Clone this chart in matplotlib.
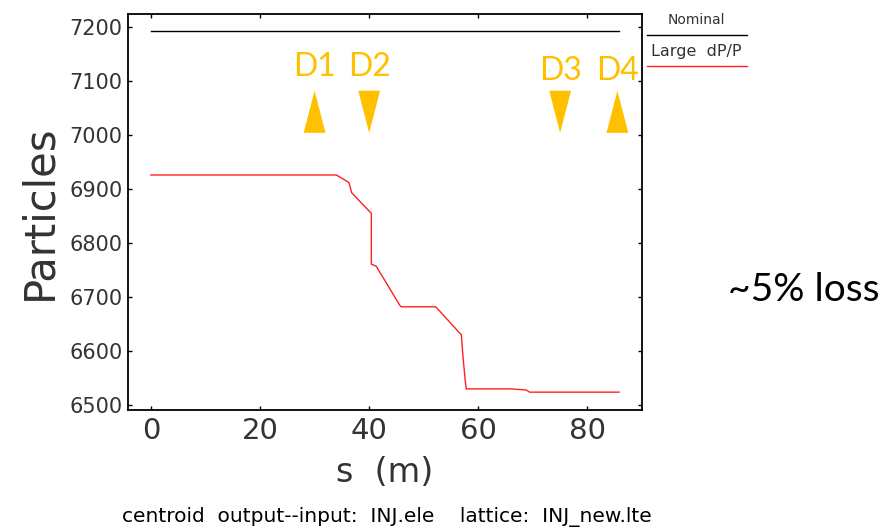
import matplotlib.pyplot as plt
from matplotlib.lines import Line2D

# Particle count along the beamline
s_nominal = [0.0, 85.8]
n_nominal = [7193, 7193]

s_large = [0.0, 34.0, 36.3, 36.8, 40.4, 40.4, 41.3, 45.6, 45.9, 52.2,
           56.9, 57.2, 57.6, 57.8, 66.0, 68.8, 69.4, 85.8]
n_large = [6926, 6926, 6912, 6893, 6855, 6761, 6757, 6685, 6682, 6682,
           6630, 6589, 6546, 6530, 6530, 6528, 6524, 6524]

# Detector markers: name, position (m), arrow direction
det_names = ['D1', 'D2', 'D3', 'D4']
det_s = [30.0, 40.0, 75.0, 85.5]
det_up = [True, False, False, True]

x_ticks = [0, 20, 40, 60, 80]
y_ticks = [6500, 6600, 6700, 6800, 6900, 7000, 7100, 7200]

orange = '#FFC000'
grey = '#333333'
plt.rcParams['font.family'] = 'DejaVu Sans'

fig = plt.figure(figsize=(8.92, 5.29), dpi=100)
ax = fig.add_axes([0.1435, 0.225, 0.5762, 0.7485])

ax.plot(s_nominal, n_nominal, color='black', lw=1.0)
ax.plot(s_large, n_large, color='#ff2020', lw=1.0)

# Triangles for the detectors
half_w = 2.0
tri_lo, tri_hi = 7004, 7082
for name, s, up in zip(det_names, det_s, det_up):
    xs = [s - half_w, s + half_w, s]
    if up:
        ys = [tri_lo, tri_lo, tri_hi]
    else:
        ys = [tri_hi, tri_hi, tri_lo]
    ax.fill(xs, ys, color=orange, lw=0)
    ty = 7125 if name in ('D1', 'D2') else 7118
    ax.text(s, ty, name, color=orange, fontsize=23, ha='center', va='center',
            family='Lato')

ax.set_xlim(-4.2, 90)
ax.set_ylim(6491, 7224)
ax.set_xticks(x_ticks)
ax.set_yticks(y_ticks)
ax.tick_params(direction='in', length=3, width=1, top=True, right=True,
               colors='black', labelcolor=grey)
ax.tick_params(axis='x', labelsize=21, pad=5)
ax.tick_params(axis='y', labelsize=15, pad=4)
for sp in ax.spines.values():
    sp.set_linewidth(1.3)

ax.set_xlabel('s  (m)', fontsize=24, color=grey, labelpad=8)
ax.set_ylabel('Particles', fontsize=30, color=grey, labelpad=6)

# Legend drawn outside the axes on the right
fig.text(0.781, 0.962, 'Nominal', fontsize=10, color=grey, ha='center', va='center')
fig.add_artist(Line2D([0.725, 0.838], [0.934, 0.934], color='black', lw=1.0))
fig.text(0.781, 0.902, 'Large  dP/P', fontsize=11.5, color=grey, ha='center', va='center')
fig.add_artist(Line2D([0.725, 0.838], [0.875, 0.875], color='#ff2020', lw=1.0))

fig.text(0.901, 0.452, '~5% loss', fontsize=28, color='black', ha='center',
         va='center', family='Lato')

fig.text(0.434, 0.022, 'centroid  output--input:  INJ.ele    lattice:  INJ_new.lte',
         fontsize=14.5, color='black', ha='center', va='center')

fig.savefig('out.png', dpi=100)
